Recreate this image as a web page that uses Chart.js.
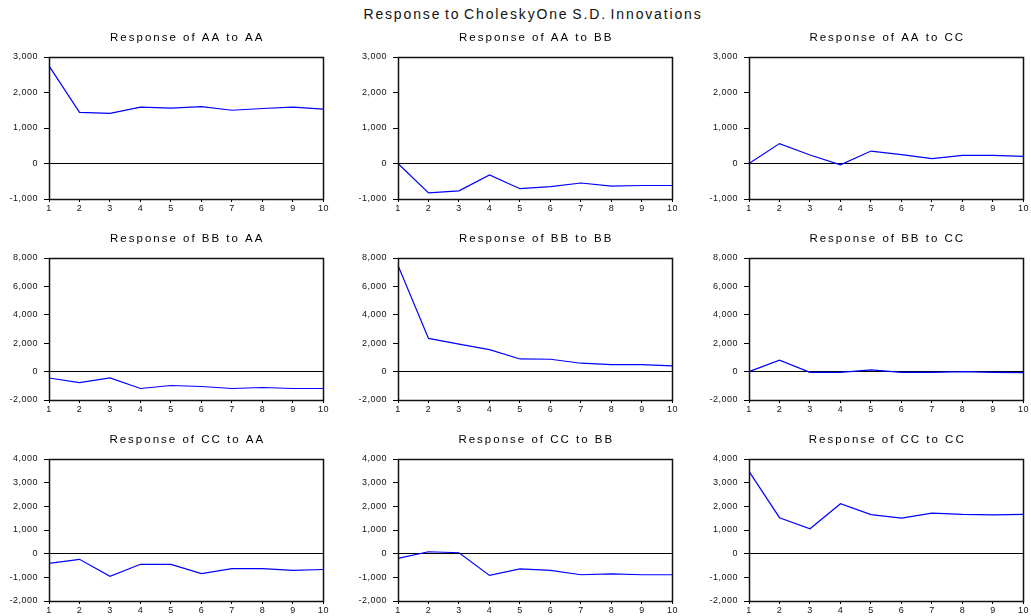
<!DOCTYPE html>
<html>
<head>
<meta charset="utf-8">
<script src="https://cdn.jsdelivr.net/npm/chart.js@4.4.1/dist/chart.umd.min.js"></script>
<style>
  html, body { margin: 0; padding: 0; background: #fff; overflow: hidden; }
  body { width: 1031px; height: 616px; position: relative; }
  #mainTitle {
    position: absolute; left: 0; width: 1066px; top: 6px; text-align: center;
    font: 14px "Liberation Sans", Arial, sans-serif; letter-spacing: 1.85px; word-spacing: -2px; color: #111;
  }
  canvas { position: absolute; }
</style>
</head>
<body>
<div id="mainTitle">Response to CholeskyOne S.D. Innovations</div>
<canvas id="c0" width="331" height="185" style="left:-1px;top:30px"></canvas>
<canvas id="c1" width="331" height="185" style="left:348px;top:30px"></canvas>
<canvas id="c2" width="331" height="185" style="left:699px;top:30px"></canvas>
<canvas id="c3" width="331" height="185" style="left:-1px;top:231px"></canvas>
<canvas id="c4" width="331" height="185" style="left:348px;top:231px"></canvas>
<canvas id="c5" width="331" height="185" style="left:699px;top:231px"></canvas>
<canvas id="c6" width="331" height="185" style="left:-1px;top:432px"></canvas>
<canvas id="c7" width="331" height="185" style="left:348px;top:432px"></canvas>
<canvas id="c8" width="331" height="185" style="left:699px;top:432px"></canvas>
<script>
// impulse responses
const periods = [1, 2, 3, 4, 5, 6, 7, 8, 9, 10];

const aaToAA = [2750, 1440, 1410, 1590, 1560, 1600, 1500, 1550, 1590, 1530];
const aaToBB = [0, -830, -770, -320, -710, -650, -550, -640, -620, -620];
const aaToCC = [0, 560, 240, -40, 350, 250, 140, 230, 230, 200];

const bbToAA = [-450, -770, -440, -1190, -980, -1050, -1190, -1120, -1190, -1190];
const bbToBB = [7470, 2340, 1940, 1550, 890, 870, 590, 490, 490, 400];
const bbToCC = [0, 800, -50, -50, 120, -50, -50, 0, -50, -70];

const ccToAA = [-410, -240, -960, -450, -450, -840, -630, -630, -710, -670];
const ccToBB = [-200, 80, 40, -920, -640, -710, -890, -850, -890, -890];
const ccToCC = [3480, 1520, 1050, 2110, 1650, 1500, 1710, 1660, 1640, 1660];

// y ranges per row
const rowMin = [-1000, -2000, -2000];
const rowMax = [3000, 8000, 4000];
const rowStep = [1000, 2000, 1000];

const panels = [
    { title: 'Response of AA to AA', data: aaToAA, row: 0 },
    { title: 'Response of AA to BB', data: aaToBB, row: 0 },
    { title: 'Response of AA to CC', data: aaToCC, row: 0 },
    { title: 'Response of BB to AA', data: bbToAA, row: 1 },
    { title: 'Response of BB to BB', data: bbToBB, row: 1 },
    { title: 'Response of BB to CC', data: bbToCC, row: 1 },
    { title: 'Response of CC to AA', data: ccToAA, row: 2 },
    { title: 'Response of CC to BB', data: ccToBB, row: 2 },
    { title: 'Response of CC to CC', data: ccToCC, row: 2 },
];

const FONT = '"Liberation Sans", Arial, sans-serif';

// wide text like the original, panel title over the plot area, full frame
const framePlugin = {
    id: 'frame',
    beforeUpdate(chart) { chart.ctx.letterSpacing = '0.5px'; },
    beforeDraw(chart) { chart.ctx.letterSpacing = '0.5px'; },
    afterDraw(chart, args, opts) {
        const a = chart.chartArea, ctx = chart.ctx;
        ctx.save();
        ctx.strokeStyle = '#111';
        ctx.lineWidth = 1.5;
        ctx.strokeRect(Math.round(a.left) + 0.5, Math.round(a.top) + 0.5,
            Math.round(a.right - a.left), Math.round(a.bottom - a.top));
        ctx.letterSpacing = '2px';
        ctx.font = '11.5px ' + FONT;
        ctx.fillStyle = '#000';
        ctx.textAlign = 'center';
        ctx.textBaseline = 'middle';
        ctx.fillText(opts.text, (a.left + a.right) / 2 + 1, a.top - 19);
        ctx.restore();
    }
};

function veBieuDo(p, i) {
    const ctx = document.getElementById('c' + i).getContext('2d');
    new Chart(ctx, {
        type: 'line',
        data: {
            labels: periods,
            datasets: [{
                data: p.data,
                borderColor: '#0000ff',
                borderWidth: 1.2,
                pointRadius: 0,
                tension: 0,
                fill: false
            }]
        },
        options: {
            responsive: false,
            animation: false,
            events: [],
            layout: { padding: { right: 6, left: 0, top: 27, bottom: 0 } },
            scales: {
                x: {
                    afterFit(scale) { scale.height = 16; },
                    grid: { drawOnChartArea: false, tickLength: 3, color: '#000' },
                    border: { color: '#000' },
                    ticks: {
                        color: '#111', font: { family: FONT, size: 9 },
                        padding: 1, maxRotation: 0, autoSkip: false
                    }
                },
                y: {
                    min: rowMin[p.row],
                    max: rowMax[p.row],
                    afterFit(scale) { scale.width = 50; },
                    grid: {
                        tickLength: 5,
                        tickColor: '#000',
                        lineWidth: 1,
                        color: c => (c.tick && c.tick.value === 0) ? '#000' : 'rgba(0,0,0,0)'
                    },
                    border: { color: '#000' },
                    ticks: {
                        stepSize: rowStep[p.row],
                        color: '#111', font: { family: FONT, size: 9 }, padding: 6,
                        callback: v => v.toLocaleString('en-US')
                    }
                }
            },
            plugins: {
                legend: { display: false },
                tooltip: { enabled: false },
                title: { display: false },
                frame: { text: p.title }
            }
        },
        plugins: [framePlugin]
    });
}

panels.forEach(veBieuDo);
</script>
</body>
</html>
